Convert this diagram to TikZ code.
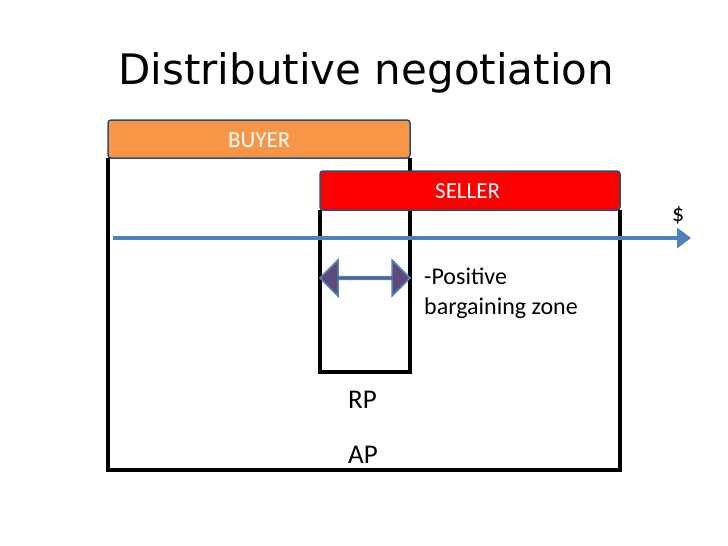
\documentclass[tikz,border=0pt]{standalone}
\usepackage{fontspec}
\setmainfont{Carlito}
\newfontfamily\titlefont{DejaVu Sans}
\usetikzlibrary{shapes.arrows,arrows.meta}
\definecolor{buyerc}{HTML}{F79646}
\definecolor{sellerc}{HTML}{FF0000}
\definecolor{axisc}{HTML}{4F81BD}
\definecolor{zonec}{HTML}{604A7B}
\tikzset{
  wall/.style={line width=3.2pt,black},
  lbl/.style={font=\fontsize{24}{28}\selectfont,anchor=west,inner sep=0pt},
  boxlbl/.style={font=\fontsize{23}{26}\selectfont,text=white,anchor=west,inner sep=0pt}
}
\begin{document}
\begin{tikzpicture}[x=1pt,y=-1pt]
\useasboundingbox (0,0) rectangle (728,546);
\node[anchor=base west,inner sep=0pt,font=\titlefont\fontsize{42}{46}\selectfont] (title) at (118,84) {Distributive negotiation};
% walls
\draw[wall] (108,158) -- (108,470) -- (620,470) -- (620,210);
\draw[wall] (320,210) -- (320,372) -- (410,372) -- (410,158);
% boxes
\draw[fill=buyerc,draw=axisc!60!black,line width=1.5pt,rounded corners=3pt] (108,120) rectangle (410,158);
\node[boxlbl] (buyer) at (228,140) {BUYER};
\draw[fill=sellerc,draw=axisc!60!black,line width=1.5pt,rounded corners=3pt] (320,171) rectangle (620,210);
\node[boxlbl] (seller) at (435,191) {SELLER};
% axis
\coordinate (a0) at (113,238);
\coordinate (a1) at (691,238);
\draw[axisc,line width=3.5pt,-{Triangle[length=14pt,width=20pt]}] (a0) -- (a1);
\node[lbl] (dollar) at (672,215) {\$};
% zone arrow
\node[double arrow,fill=zonec,draw=axisc,line width=1.5pt,minimum width=36pt,double arrow head extend=9pt,double arrow head indent=0pt,minimum height=90pt,inner sep=0pt] (zone) at (365,278) {};
\node[lbl,align=left,anchor=north west] (pos) at (424,268) {-Positive\\[2pt]bargaining zone};
\node[lbl,font=\fontsize{27}{30}\selectfont] (rp) at (348,400) {RP};
\node[lbl,font=\fontsize{27}{30}\selectfont] (ap) at (348,455) {AP};
\end{tikzpicture}
\end{document}
